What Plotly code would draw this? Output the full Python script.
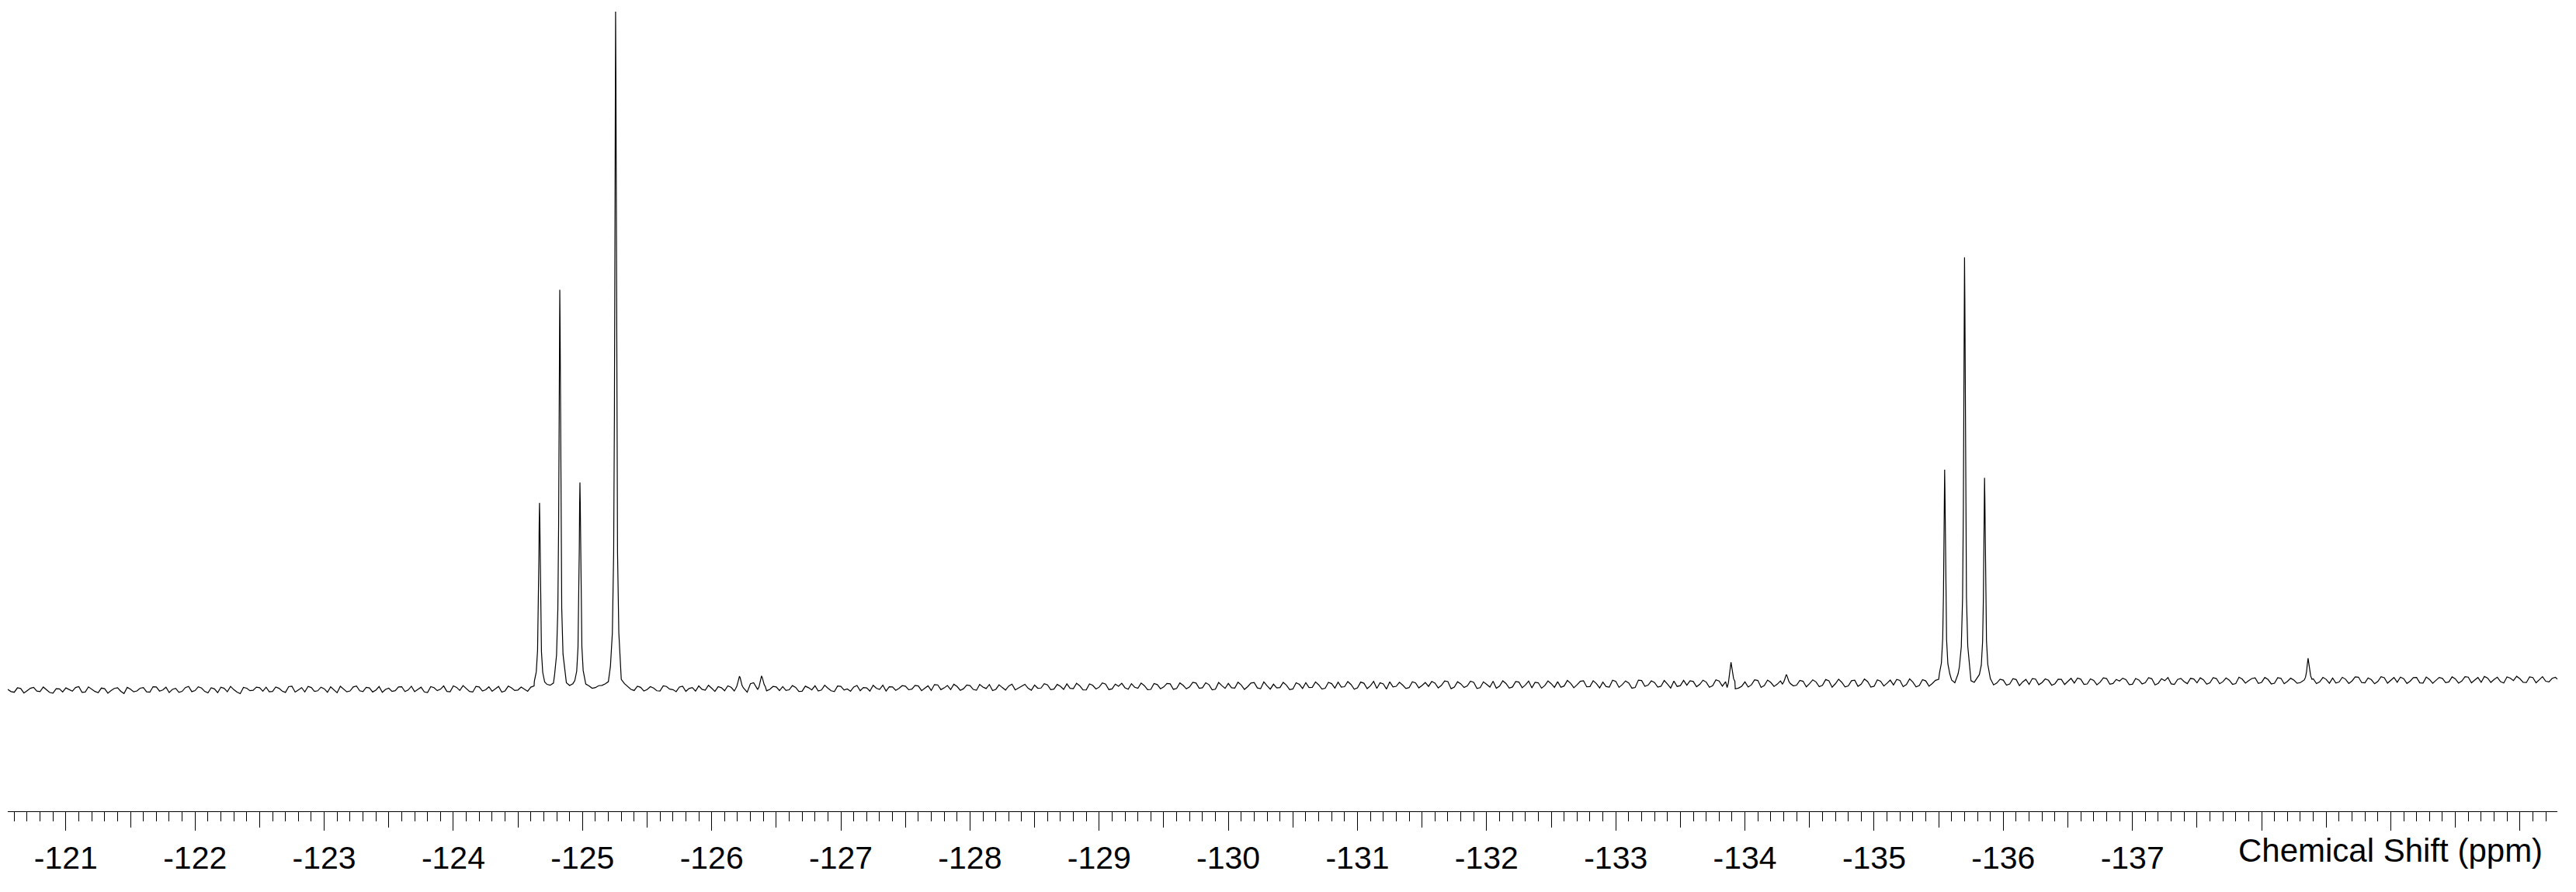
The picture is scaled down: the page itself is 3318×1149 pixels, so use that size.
import plotly.graph_objects as go

# ---------------- data ----------------
# baseline samples: one value every 0.05 ppm starting at -120.55 ppm (None = covered by a peak)
baseline_start_ppm = -120.55
baseline_step_ppm = 0.05
baseline_values = [
    0.12, -0.31, 0.25, -0.08, 0.41, -0.22, 0.05, -0.45, 0.18, 0.33, -0.15, 0.52, -0.27, 0.09, -0.38, 0.21, -0.05, 0.36, -0.49, 0.14,
    -0.12, 0.38, -0.29, 0.47, 0.02, -0.35, 0.26, -0.18, 0.55, -0.06, 0.31, -0.41, 0.19, 0.44, -0.24, 0.08, -0.52, 0.29, -0.01, 0.36,
    0.43, -0.19, 0.27, -0.33, 0.58, 0.04, -0.26, 0.39, -0.09, 0.21, 0.49, -0.38, 0.15, -0.12, 0.62, -0.21, 0.33, 0.01, -0.31, 0.28,
    -0.08, 0.51, 0.02, -0.22, 0.44, -0.35, 0.37, 0.13, -0.18, 0.63, -0.05, 0.29, -0.28, 0.48, 0.06, -0.16, 0.55, -0.11, 0.34, 0.02,
    0.15, 0.45, None, None, 0.72, None, None, 0.68, None, None, 0.62, 0.38, 0.71, 1.25, None, 1.6, 0.55, -0.05, 0.42, 0.08,
    0.31, -0.12, 0.54, 0.08, 0.46, -0.18, 0.39, 0.62, -0.02, 0.28, 0.51, -0.09, 0.43, None, None, 0.95, None, None, 0.12, 0.48,
    0.52, 0.05, 0.41, -0.15, 0.36, 0.64, 0.02, 0.29, -0.21, 0.55, 0.18, 0.47, -0.08, 0.33, 0.71, 0.11, -0.12, 0.48, 0.26, 0.59,
    0.15, 0.62, 0.28, -0.05, 0.77, 0.33, 0.09, 0.54, 0.21, 0.68, -0.02, 0.45, 0.83, 0.12, 0.39, 0.61, 0.04, 0.52, 0.27, 0.74,
    0.31, 0.78, 0.15, 0.56, 0.92, 0.22, 0.63, 0.05, 0.71, 0.44, 0.88, 0.19, 0.57, 0.35, 0.95, 0.28, 0.66, 0.11, 0.82, 0.47,
    0.93, 0.25, 0.71, 0.48, 1.05, 0.36, 0.82, 0.14, 0.67, 0.99, 0.31, 0.76, 0.52, 1.12, 0.21, 0.64, 0.88, 0.39, 0.73, 0.18,
    0.85, 1.11, 0.42, 0.78, 0.29, 0.96, 1.18, 0.51, 0.83, 0.35, 1.02, 0.64, 0.26, 0.91, 1.22, 0.57, 0.74, 0.38, 1.06, 0.69,
    0.55, 1.03, 0.71, 1.26, 0.44, 0.92, 0.62, 1.15, 0.37, 0.86, 1.31, 0.59, 0.98, 0.47, 1.19, 0.76, 0.33, 1.08, 0.67, 0.95,
    1.24, 0.61, 1.02, 0.78, 1.37, 0.53, 0.96, 1.18, 0.45, 1.29, 0.82, 1.06, 0.39, 1.41, 0.73, 1.12, 0.58, 0.91, 1.33, 0.67,
    0.72, 1.28, 0.85, 1.19, 0.64, 1.35, 1.25, None, 0.30, 1.21, 0.78, 1.42, 0.69, 1.14, 0.88, None, None, 0.74, 1.31, 0.95,
    1.22, 0.71, 1.38, 0.94, 1.15, 0.62, 1.47, 0.89, 1.26, 0.58, 1.33, 1.01, 0.76, 1.44, 0.83, 1.19, 0.67, 1.36, 0.98, 1.60,
    None, 1.50, 2.40, None, 1.40, 1.80, None, 1.70, 1.05, 1.48, 0.92, 1.56, 1.21, 0.86, 1.63, 1.12, 1.45, 0.95, 1.58, 1.27,
    1.05, 1.62, 0.91, 1.44, 1.18, 1.71, 0.98, 1.35, 1.55, 0.87, 1.49, 1.12, 1.68, 1.01, 1.39, 0.93, 1.58, 1.26, 1.74, 1.08,
    1.52, 1.08, 1.71, 1.24, 1.46, 0.97, 1.63, 1.39, 1.82, 1.15, 1.57, 1.03, 1.74, 1.29, 1.48, 1.11, None, 1.66, 1.22, 1.59,
    1.78, 1.19, 1.62, 1.35, 1.91, 1.07, 1.54, 1.28, 1.83, 1.41, 1.16, 1.69, 1.32, 1.87, 1.05, 1.58, 1.44, 1.73, 1.21, 1.66,
    1.34, 1.92, 1.48, 1.15, 1.79, 1.57, 1.26, 1.95, 1.41, 1.68, 1.12, 1.86, 1.53, 1.31, 1.74, 1.45,
]
# in-between baseline samples: every 0.05 ppm starting at -120.575 ppm
baseline_mid_start_ppm = -120.575
baseline_mid_values = [
    -0.21, 0.34, -0.42, 0.27, -0.13, 0.46, -0.35, 0.22, -0.28, 0.07, 0.39, -0.33, 0.48, -0.19, 0.31, -0.44, 0.26, -0.17, 0.41, -0.25,
    0.29, -0.24, 0.51, -0.14, 0.43, 0.11, -0.33, 0.38, -0.22, 0.49, -0.18, 0.34, -0.37, 0.27, 0.56, -0.29, 0.41, -0.08, 0.45, -0.16,
    -0.23, 0.46, -0.14, 0.52, -0.28, 0.37, 0.55, -0.19, 0.44, -0.31, 0.06, 0.57, -0.24, 0.48, -0.09, 0.42, -0.27, 0.53, 0.12, -0.18,
    0.47, -0.21, 0.58, 0.09, -0.26, 0.53, -0.07, 0.62, -0.24, 0.41, 0.68, -0.19, 0.56, -0.12, 0.49, 0.21, -0.29, 0.59, -0.04, 0.45,
    -0.16, 0.62, 0.5, 0.85, 1.05, 0.5, 1.1, 0.95, 0.5, 0.9, 0.28, 0.66, 0.92, 0.5, 0.5, 0.95, 0.12, 0.58, -0.12, 0.51,
    -0.09, 0.63, 0.15, -0.22, 0.58, 0.24, -0.14, 0.12, 0.71, -0.18, 0.36, 0.64, -0.11, 0.5, -0.3, 1.1, 0.5, -0.1, 0.55, -0.06,
    -0.05, 0.67, -0.18, 0.59, 0.04, -0.12, 0.73, -0.09, 0.61, 0.02, -0.16, 0.69, 0.38, -0.14, 0.28, 0.74, 0.49, -0.02, 0.66, 0.06,
    0.71, -0.08, 0.64, 0.82, 0.07, 0.69, 0.87, -0.02, 0.76, 0.11, 0.84, 0.24, -0.06, 0.79, 0.02, 0.88, 0.31, 0.86, -0.01, 0.28,
    0.95, 0.08, 0.84, 0.12, 0.27, 1.02, 0.03, 0.91, 0.17, 1.06, 0.09, 0.89, 1.01, 0.14, 0.43, 1.05, 0.06, 0.97, 0.21, 0.99,
    0.12, 1.07, 0.19, 1.16, 0.28, 1.09, 0.04, 1.13, 0.26, 0.35, 1.18, 0.11, 1.04, 0.33, 1.21, 0.15, 0.32, 1.14, 0.07, 1.09,
    0.24, 0.39, 1.21, 0.17, 1.15, 0.31, 0.44, 1.26, 0.13, 1.19, 0.22, 1.29, 1.08, 0.16, 0.48, 1.17, 0.25, 1.23, 0.34, 1.12,
    1.28, 0.32, 1.35, 0.21, 1.24, 0.39, 1.32, 0.26, 1.22, 0.45, 0.28, 1.38, 0.31, 1.27, 0.36, 1.34, 1.16, 0.29, 1.36, 0.41,
    0.42, 1.43, 0.36, 1.31, 0.49, 1.39, 0.33, 0.52, 1.46, 0.41, 1.35, 0.29, 1.48, 0.56, 1.37, 0.44, 1.42, 0.31, 0.55, 1.44,
    1.39, 0.51, 1.46, 0.42, 1.51, 0.58, 1.6, 0.2, 0.58, 0.46, 1.53, 0.41, 1.48, 0.55, 1.36, 1.5, 0.62, 1.44, 0.49, 1.52,
    0.51, 1.56, 0.43, 1.61, 0.47, 1.39, 0.56, 1.63, 0.45, 1.52, 0.61, 1.48, 1.58, 0.52, 1.66, 0.48, 1.54, 0.59, 1.45, 1.2,
    1.5, 1.1, 2.0, 1.5, 1.15, 1.5, 1.5, 0.78, 1.62, 0.74, 1.69, 0.66, 1.58, 1.71, 0.79, 1.66, 0.72, 1.61, 0.83, 1.74,
    1.78, 0.84, 1.67, 0.79, 1.82, 0.89, 1.58, 1.76, 0.81, 1.71, 0.92, 1.84, 0.77, 1.69, 1.86, 0.85, 1.73, 0.96, 1.64, 1.81,
    0.88, 1.85, 0.94, 1.79, 0.86, 1.91, 1.04, 1.72, 0.99, 1.87, 0.92, 1.83, 0.95, 1.76, 1.02, 1.5, 1.5, 0.97, 1.88, 1.01,
    1.06, 1.89, 0.98, 1.95, 1.12, 1.81, 0.94, 1.97, 1.03, 1.86, 1.91, 0.99, 1.84, 1.08, 1.93, 1.02, 1.87, 1.11, 1.96, 1.04,
    1.98, 1.09, 1.86, 2.02, 1.14, 1.91, 1.05, 1.78, 2.04, 1.16, 1.95, 1.08, 1.99, 1.21, 1.89,
]

# sharp lines: sample offsets (ppm) around each line centre
line_offsets = [-0.04, -0.025, -0.015, -0.009, -0.005, -0.0025, 0.0, 0.0025, 0.005, 0.009, 0.015, 0.025, 0.04]
line_centers = [-124.667, -124.824, -124.980, -125.256, -135.546, -135.700, -135.855]
line_intensities = [
    [1.2, 2.6, 5.7, 11.4, 19.0, 24.8, 27.6, 24.5, 19.1, 11.6, 5.9, 2.7, 1.3],
    [2.4, 5.3, 12.1, 24.6, 41.0, 53.5, 59.0, 54.6, 41.8, 24.3, 12.0, 5.2, 2.3],
    [1.5, 2.9, 6.4, 12.7, 21.2, 27.5, 30.6, 27.2, 21.0, 12.6, 6.3, 2.8, 1.4],
    [3.6, 8.5, 20.3, 41.2, 69.5, 90.3, 100.0, 90.1, 69.2, 41.0, 20.1, 8.4, 3.5],
    [2.4, 3.9, 7.5, 14.1, 22.8, 29.3, 32.5, 29.4, 22.9, 14.2, 7.6, 4.0, 2.5],
    [3.5, 6.5, 13.7, 26.9, 44.5, 57.6, 63.8, 57.5, 44.3, 26.8, 13.6, 6.4, 3.4],
    [2.3, 3.8, 7.3, 13.6, 22.1, 28.2, 31.3, 28.3, 22.0, 13.5, 7.2, 3.7, 2.3],
]

# small lines
small_offsets = [-0.03, -0.02, -0.012, -0.006, 0.0, 0.006, 0.012, 0.02, 0.03]
small_centers = [-126.215, -126.386, -133.892, -134.320, -138.360]
small_intensities = [
    [0.35, 0.7, 1.2, 1.8, 2.05, 1.75, 1.15, 0.6, 0.2],
    [0.5, 0.85, 1.3, 1.85, 2.1, 1.7, 1.1, 0.45, 0.1],
    [1.3, 1.7, 2.4, 3.4, 4.1, 3.2, 2.2, 1.1, 0.4],
    [1.0, 1.3, 1.7, 2.1, 2.3, 2.0, 1.6, 1.2, 0.9],
    [1.6, 2.1, 2.9, 3.9, 4.7, 3.8, 2.7, 1.9, 1.5],
]

tick_values = [-121, -122, -123, -124, -125, -126, -127, -128, -129, -130,
               -131, -132, -133, -134, -135, -136, -137, -138, -139, -140]
tick_labels = ["-121", "-122", "-123", "-124", "-125", "-126", "-127", "-128", "-129", "-130",
               "-131", "-132", "-133", "-134", "-135", "-136", "-137", "", "", ""]
axis_title = "Chemical Shift (ppm)"
x_range = [-120.55, -140.29]
y_range = [-17.85, 101.72]

# ---------------- assemble spectrum ----------------
spans = [(c + line_offsets[0], c + line_offsets[-1]) for c in line_centers] + \
        [(c + small_offsets[0], c + small_offsets[-1]) for c in small_centers]


def inside_peak(p):
    return any(lo < p < hi for lo, hi in spans)


points = []
for start, vals in ((baseline_start_ppm, baseline_values), (baseline_mid_start_ppm, baseline_mid_values)):
    for i, v in enumerate(vals):
        p = start - i * baseline_step_ppm
        if v is not None and not inside_peak(p):
            points.append((p, v))
for c, vals in zip(line_centers, line_intensities):
    for o, v in zip(line_offsets, vals):
        points.append((c + o, v))
for c, vals in zip(small_centers, small_intensities):
    for o, v in zip(small_offsets, vals):
        points.append((c + o, v))
points.sort(key=lambda q: -q[0])
xs = [q[0] for q in points]
ys = [q[1] for q in points]

FONT = "Liberation Sans, Arial, sans-serif"

fig = go.Figure()
fig.add_trace(go.Scatter(x=xs, y=ys, mode="lines",
                         line=dict(color="black", width=1.2),
                         hoverinfo="skip", showlegend=False))
fig.add_trace(go.Scatter(x=[x_range[0]], y=[None], xaxis="x2", mode="lines",
                         hoverinfo="skip", showlegend=False))

fig.update_layout(
    width=3318, height=1149,
    margin=dict(l=10, r=24, t=0, b=104),
    paper_bgcolor="white", plot_bgcolor="white",
    showlegend=False,
    xaxis=dict(
        range=x_range, showgrid=False, zeroline=False,
        showline=True, linecolor="black", linewidth=1,
        ticks="outside", ticklen=24, tickwidth=1, tickcolor="black",
        tickmode="array", tickvals=tick_values, ticktext=tick_labels,
        tickfont=dict(family=FONT, size=41, color="black"),
        minor=dict(ticks="outside", dtick=0.1, tick0=0, ticklen=12,
                   tickwidth=1, tickcolor="black", showgrid=False),
    ),
    xaxis2=dict(
        range=x_range, overlaying="x", anchor="y", side="bottom",
        showgrid=False, zeroline=False, showline=False,
        ticks="outside", ticklen=20, tickwidth=1, tickcolor="black",
        tickmode="linear", tick0=0, dtick=0.5, showticklabels=False,
    ),
    yaxis=dict(range=y_range, visible=False, showgrid=False, zeroline=False),
    annotations=[dict(
        text=axis_title, xref="paper", yref="paper",
        x=0.9948, y=-0.0488, xanchor="right", yanchor="middle",
        showarrow=False, font=dict(family=FONT, size=42, color="black"),
    )],
)

fig.write_html("out.html", config={"displayModeBar": False},
               post_script="document.body.style.margin='0';document.body.style.overflow='hidden';")
